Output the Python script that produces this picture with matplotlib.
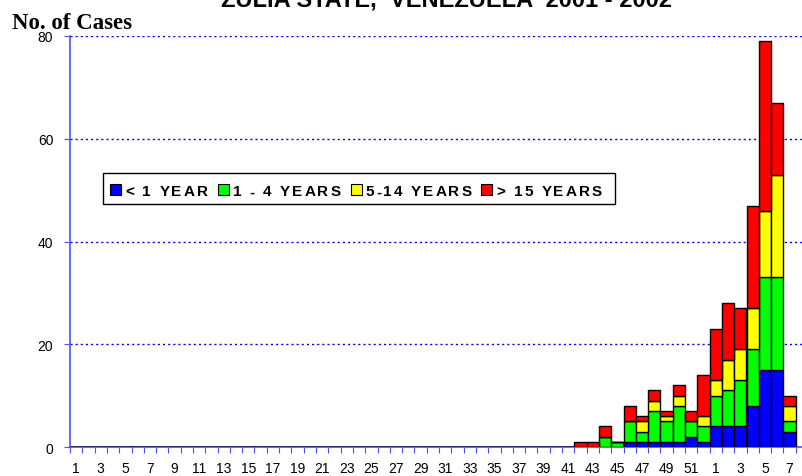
import matplotlib
matplotlib.use("Agg")
import matplotlib.pyplot as plt
from matplotlib.patches import Rectangle

# epidemiological weeks: 2001 wk 1-52, then 2002 wk 1-7
weeks = [str(w) for w in range(1, 53)] + ["1", "2", "3", "4", "5", "6", "7"]

under1 = [0, 0, 0, 0, 0, 0, 0, 0, 0, 0, 0, 0, 0, 0, 0, 0, 0, 0, 0, 0,
          0, 0, 0, 0, 0, 0, 0, 0, 0, 0, 0, 0, 0, 0, 0, 0, 0, 0, 0, 0,
          0, 0, 0, 0, 0, 1, 1, 1, 1, 1, 2, 1,
          4, 4, 4, 8, 15, 15, 3]
age1_4 = [0, 0, 0, 0, 0, 0, 0, 0, 0, 0, 0, 0, 0, 0, 0, 0, 0, 0, 0, 0,
          0, 0, 0, 0, 0, 0, 0, 0, 0, 0, 0, 0, 0, 0, 0, 0, 0, 0, 0, 0,
          0, 0, 0, 2, 1, 4, 2, 6, 4, 7, 3, 3,
          6, 7, 9, 11, 18, 18, 2]
age5_14 = [0, 0, 0, 0, 0, 0, 0, 0, 0, 0, 0, 0, 0, 0, 0, 0, 0, 0, 0, 0,
           0, 0, 0, 0, 0, 0, 0, 0, 0, 0, 0, 0, 0, 0, 0, 0, 0, 0, 0, 0,
           0, 0, 0, 0, 0, 0, 2, 2, 1, 2, 0, 2,
           3, 6, 6, 8, 13, 20, 3]
over15 = [0, 0, 0, 0, 0, 0, 0, 0, 0, 0, 0, 0, 0, 0, 0, 0, 0, 0, 0, 0,
          0, 0, 0, 0, 0, 0, 0, 0, 0, 0, 0, 0, 0, 0, 0, 0, 0, 0, 0, 0,
          0, 1, 1, 2, 0, 3, 1, 2, 1, 2, 2, 8,
          10, 11, 8, 20, 33, 14, 2]

groups = ["< 1 YEAR", "1 - 4 YEARS", "5-14 YEARS", "> 15 YEARS"]
colors = ["#0000ff", "#00ff00", "#ffff00", "#ff0000"]
series = [under1, age1_4, age5_14, over15]

axcol = "#4f4fff"
W, H = 803, 477
fig = plt.figure(figsize=(W / 100, H / 100), dpi=100)
ax = fig.add_axes([70 / W, 1 - 448 / H, 733 / W, (448 - 37) / H])

x = list(range(1, len(weeks) + 1))
bottom = [0] * len(x)
for vals, c in zip(series, colors):
    ax.bar(x, vals, width=1.0, bottom=bottom, color=c, edgecolor="black",
           linewidth=1.0, zorder=3)
    bottom = [b + v for b, v in zip(bottom, vals)]

ax.set_xlim(0.5, 0.5 + 733 / 12.3)
ax.set_ylim(0, 80)

for yv in [20, 40, 60, 80]:
    ax.axhline(yv, color="#0000ee", linestyle=(0, (1.5, 2.2)), linewidth=1.0, zorder=1)

for s in ["top", "right"]:
    ax.spines[s].set_visible(False)
for s in ["left", "bottom"]:
    ax.spines[s].set_color(axcol)
    ax.spines[s].set_linewidth(1.2)

ax.set_yticks([0, 20, 40, 60, 80])
ax.tick_params(axis="y", colors=axcol, labelcolor="black", length=4,
               labelsize=10, pad=8)
ax.set_xticks([i + 0.5 for i in range(0, len(weeks) + 1)])
ax.set_xticklabels([])
ax.tick_params(axis="x", which="major", colors=axcol, length=4, direction="out")
lab_pos = [p for p, w in zip(x, weeks) if int(w) % 2 == 1]
lab_txt = [w for w in weeks if int(w) % 2 == 1]
ax.set_xticks(lab_pos, minor=True)
ax.set_xticklabels(lab_txt, minor=True)
ax.tick_params(axis="x", which="minor", length=0, labelsize=10, pad=10,
               labelcolor="black")
for t in ax.get_xticklabels(minor=True) + ax.get_yticklabels():
    t.set_family("Liberation Sans")

fig.text(12 / W, 1 - 29 / H, "No. of Cases", family="Liberation Serif",
         fontweight="bold", fontsize=16.5, va="baseline", ha="left")
fig.text(447 / W, 1 - 6 / H, "ZULIA STATE,  VENEZUELA  2001 - 2002",
         family="Liberation Sans", fontweight="bold", fontsize=17,
         va="baseline", ha="center")

# legend box with letter-spaced labels, drawn in pixel positions
renderer = fig.canvas.get_renderer()
lkw = dict(family="Liberation Sans", fontweight="bold", fontsize=11)
track = 2.1


def text_w(s):
    t = fig.text(0, 0, s + "|", **lkw)
    w1 = t.get_window_extent(renderer).width
    t.remove()
    t = fig.text(0, 0, "|", **lkw)
    w2 = t.get_window_extent(renderer).width
    t.remove()
    return w1 - w2


def tracked(xp, yp, s):
    for i, ch in enumerate(s):
        if ch == " ":
            continue
        off = text_w(s[:i]) + i * track if i else 0
        fig.text((xp + off) / W, 1 - yp / H, ch, va="baseline", ha="left",
                 zorder=8, **lkw)
    return text_w(s) + (len(s) - 1) * track


fig.patches.append(Rectangle((103 / W, 1 - 205 / H), (615 - 103) / W, 31 / H,
                             transform=fig.transFigure, facecolor="white",
                             edgecolor="black", linewidth=1.0, zorder=5))
xp = 110
for g, c in zip(groups, colors):
    fig.patches.append(Rectangle((xp / W, 1 - 196 / H), 11 / W, 11 / H,
                                 transform=fig.transFigure, facecolor=c,
                                 edgecolor="black", linewidth=0.8, zorder=6))
    wtxt = tracked(xp + 15, 196.5, g)
    xp = xp + 15 + wtxt + 10

fig.savefig("out.png", dpi=100)
